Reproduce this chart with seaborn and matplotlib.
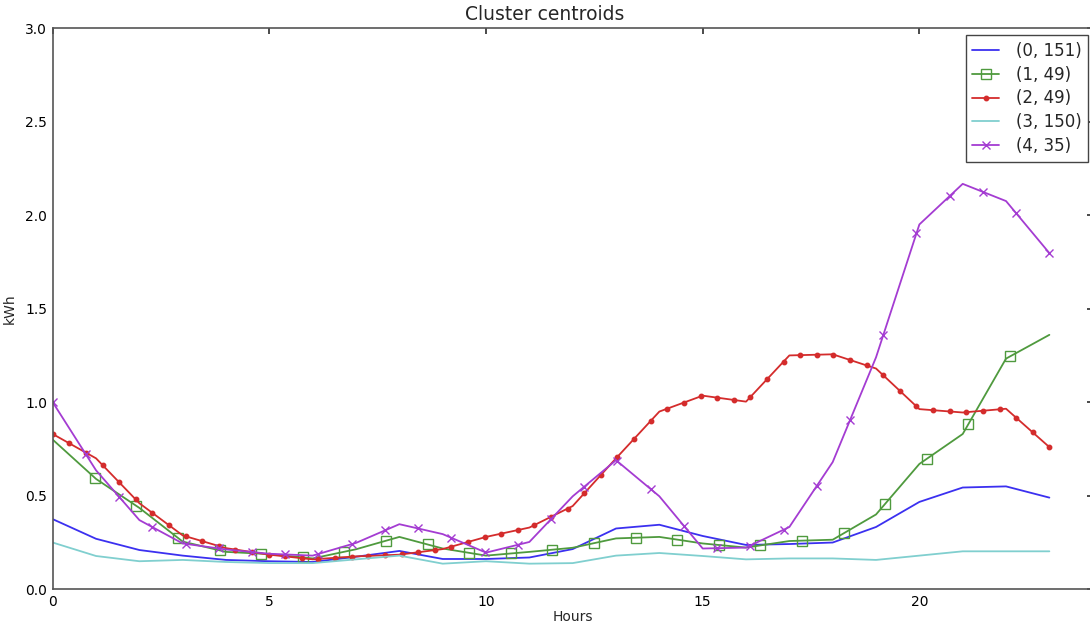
import numpy as np
import pandas as pd
import matplotlib
matplotlib.use("Agg")
import matplotlib.pyplot as plt
import seaborn as sns
from matplotlib.lines import Line2D

# ---- data ----
hours = list(range(24))
labels = ["(0, 151)", "(1, 49)", "(2, 49)", "(3, 150)", "(4, 35)"]
c0 = [0.375, 0.27, 0.21, 0.18, 0.157, 0.15, 0.146, 0.174, 0.205, 0.162, 0.162, 0.17,
      0.215, 0.325, 0.345, 0.285, 0.237, 0.242, 0.25, 0.333, 0.467, 0.544, 0.55, 0.49]
c1 = [0.80, 0.59, 0.435, 0.255, 0.20, 0.188, 0.165, 0.214, 0.28, 0.218, 0.18, 0.20,
      0.222, 0.272, 0.28, 0.245, 0.223, 0.258, 0.265, 0.40, 0.67, 0.83, 1.233, 1.36]
c2 = [0.83, 0.70, 0.46, 0.288, 0.22, 0.185, 0.16, 0.176, 0.185, 0.215, 0.28, 0.33,
      0.445, 0.70, 0.95, 1.035, 1.003, 1.25, 1.256, 1.18, 0.963, 0.945, 0.965, 0.76]
c3 = [0.25, 0.178, 0.15, 0.157, 0.146, 0.14, 0.14, 0.16, 0.18, 0.137, 0.15, 0.137,
      0.14, 0.18, 0.194, 0.178, 0.16, 0.165, 0.165, 0.157, 0.18, 0.203, 0.203, 0.203]
c4 = [1.00, 0.636, 0.37, 0.245, 0.213, 0.19, 0.18, 0.248, 0.348, 0.295, 0.196, 0.253,
      0.497, 0.69, 0.497, 0.218, 0.223, 0.333, 0.68, 1.24, 1.95, 2.167, 2.075, 1.797]
series = [c0, c1, c2, c3, c4]

# ---- styles ----
colors = ["#3b30f0", "#4f9a3e", "#d42c2c", "#80cfcf", "#a43cd2"]
markers = [None, "s", "o", None, "x"]
msizes = [0, 6.5, 3.2, 0, 6]
mstep = [None, 0.96, 23 / 60, None, 23 / 30]

sns.set_theme(style="white")
plt.rcParams["font.family"] = ["DejaVu Sans"]
plt.rcParams.update({
    "xtick.direction": "in", "ytick.direction": "in",
    "xtick.top": True, "ytick.right": True,
    "xtick.major.size": 4, "ytick.major.size": 4,
    "xtick.color": "#333333", "ytick.color": "#333333",
    "xtick.labelcolor": "black", "ytick.labelcolor": "black",
})

fig = plt.figure(figsize=(10.9, 6.26), dpi=100)
ax = fig.add_axes([52.7 / 1090, (626 - 589.3) / 626, 1040 / 1090, 561.3 / 626])

df = pd.DataFrame({"hour": hours})
for lab, s in zip(labels, series):
    df[lab] = s

handles = []
for i, lab in enumerate(labels):
    sns.lineplot(data=df, x="hour", y=lab, ax=ax, color=colors[i], lw=1.3)
    if markers[i] is not None:
        start = 0.97 if i == 1 else 0.0
        xm = np.arange(start, 23.0 + 1e-9, mstep[i])
        ym = np.interp(xm, df["hour"], df[lab])
        if markers[i] == "s":
            ax.plot(xm, ym, ls="none", marker="s", ms=msizes[i], mfc="none",
                    mec=colors[i], mew=1.0)
        elif markers[i] == "o":
            ax.plot(xm, ym, ls="none", marker="o", ms=msizes[i], mfc=colors[i],
                    mec=colors[i])
        else:
            ax.plot(xm, ym, ls="none", marker="x", ms=msizes[i], mec=colors[i],
                    mew=1.0)
    if markers[i] == "s":
        h = Line2D([], [], color=colors[i], lw=1.3, marker="s", ms=6.5, mfc="none",
                   mec=colors[i])
    elif markers[i] == "o":
        h = Line2D([], [], color=colors[i], lw=1.3, marker="o", ms=3.2)
    elif markers[i] == "x":
        h = Line2D([], [], color=colors[i], lw=1.3, marker="x", ms=6)
    else:
        h = Line2D([], [], color=colors[i], lw=1.3)
    handles.append(h)

ax.set_xlim(0, 24)
ax.set_ylim(0, 3.0)
ax.set_xticks([0, 5, 10, 15, 20])
ax.set_yticks(np.arange(0, 3.01, 0.5))
ax.set_yticklabels([f"{v:.1f}" for v in np.arange(0, 3.01, 0.5)])
ax.tick_params(labelsize=10, pad=4)
ax.set_xlabel("Hours", fontsize=10, labelpad=1)
ax.set_ylabel("kWh", fontsize=10, labelpad=6)
for sp in ax.spines.values():
    sp.set_color("#555555")
    sp.set_linewidth(1.2)

leg = ax.legend(handles, labels, loc="upper right",
                bbox_to_anchor=(1088 / 1090, 1 - 35 / 626),
                bbox_transform=fig.transFigure, borderaxespad=0,
                fontsize=12, frameon=True, fancybox=False, framealpha=1,
                handlelength=1.6, handletextpad=1.0, labelspacing=0.35,
                borderpad=0.4)
leg.get_frame().set_edgecolor("#444444")
leg.get_frame().set_linewidth(1.0)

fig.suptitle("Cluster centroids", x=0.5, y=1 - 15 / 626, va="center", fontsize=13.5)

fig.savefig("out.png", dpi=100)
